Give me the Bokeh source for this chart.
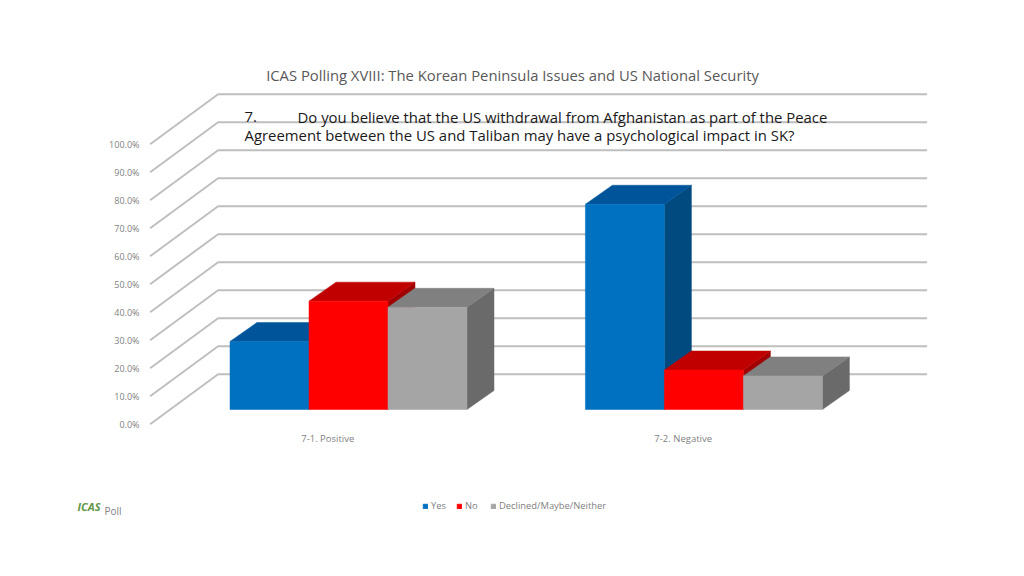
from bokeh.embed import file_html
from bokeh.resources import INLINE
from bokeh.plotting import figure
from bokeh.models import (ColumnDataSource, Range1d, LinearAxis, FixedTicker,
                          PrintfTickFormatter, Label, Legend, LegendItem)

# ---- data ----
categories = ["7-1. Positive", "7-2. Negative"]
yes_values = [24.3, 73.3]
no_values = [38.7, 14.1]
other_values = [36.5, 12.0]
series_names = ["Yes", "No", "Declined/Maybe/Neither"]
y_ticks = [0, 10, 20, 30, 40, 50, 60, 70, 80, 90, 100]
chart_title = "ICAS Polling XVIII: The Korean Peninsula Issues and US National Security"
question_no = "7."
question_1 = "Do you believe that the US withdrawal from Afghanistan as part of the Peace"
question_2 = "Agreement between the US and Taliban may have a psychological impact in SK?"

# ---- layout / projection (1 x unit = one category, 1 y unit = one percent) ----
W, H = 1008, 560
PX_X = 355.4            # px per category
PX_Y = 2.8              # px per percent
X0_PAGE, Y0_PAGE = 149.6, 423.7
wall_dx = 68 / PX_X     # oblique offset of back wall
wall_dy = 50.0 / PX_Y
wall_len = 709 / PX_X   # width of the back wall
floor_dx = 20.7 / PX_X  # bar front face sits this far back from the front edge
floor_dy = 14.7 / PX_Y
bar_dx = 27 / PX_X      # bar depth
bar_dy = 19 / PX_Y
bar_w = 79 / PX_X

x_start = (0 - X0_PAGE) / PX_X
x_end = (W - X0_PAGE) / PX_X
y_start = (Y0_PAGE - H) / PX_Y
y_end = Y0_PAGE / PX_Y

p = figure(width=W, height=H, output_backend="svg", toolbar_location=None,
           x_range=Range1d(x_start, x_end), y_range=Range1d(y_start, y_end),
           x_axis_location=None, y_axis_location=None, min_border=0,
           outline_line_color=None, background_fill_color="white",
           border_fill_color="white")
p.grid.visible = False

# ---- 3D wall gridlines ----
GRID = "#BFBFBF"
p.multi_line(xs=[[0, wall_dx, wall_len + wall_dx] for _ in y_ticks],
             ys=[[v, v + wall_dy, v + wall_dy] for v in y_ticks],
             line_color=GRID, line_width=2)

# ---- bars ----
series = [yes_values, no_values, other_values]
colors = [("#0070C0", "#00559A", "#004A80"),
          ("#FF0000", "#C00000", "#A00000"),
          ("#A5A5A5", "#808080", "#6A6A6A")]
front_renderers = []
for s, (vals, (front, top, side)) in enumerate(zip(series, colors)):
    lefts = [i + 0.5 + floor_dx + (s - 1.5) * bar_w for i in range(len(categories))]
    rights = [l + bar_w for l in lefts]
    bottoms = [floor_dy for _ in vals]
    tops = [floor_dy + v for v in vals]
    p.patches(xs=[[r, r + bar_dx, r + bar_dx, r] for r in rights],
              ys=[[b, b + bar_dy, t + bar_dy, t] for b, t in zip(bottoms, tops)],
              fill_color=side, line_color=side, line_width=0.5)
    p.patches(xs=[[l, l + bar_dx, r + bar_dx, r] for l, r in zip(lefts, rights)],
              ys=[[t, t + bar_dy, t + bar_dy, t] for t in tops],
              fill_color=top, line_color=top, line_width=0.5)
    src = ColumnDataSource(dict(left=lefts, right=rights, bottom=bottoms, top=tops))
    front_renderers.append(p.quad(left="left", right="right", bottom="bottom", top="top",
                                  source=src, fill_color=front, line_color=front, line_width=0.5))

# ---- axes (real axes, placed inside the full-page frame) ----
FONT = "Open Sans"
yaxis = LinearAxis(ticker=FixedTicker(ticks=y_ticks), formatter=PrintfTickFormatter(format="%.1f%%"),
                   fixed_location=(146 - X0_PAGE) / PX_X)
yaxis.axis_line_color = None
yaxis.major_tick_line_color = None
yaxis.minor_tick_line_color = None
yaxis.major_label_text_font = FONT
yaxis.major_label_text_font_size = "9px"
yaxis.major_label_text_color = "#7F7F7F"
yaxis.major_label_standoff = 1
p.add_layout(yaxis, "left")

xaxis = LinearAxis(ticker=FixedTicker(ticks=[i + 0.5 for i in range(len(categories))]),
                   major_label_overrides={i + 0.5: c for i, c in enumerate(categories)},
                   fixed_location=(Y0_PAGE - 422) / PX_Y)
xaxis.axis_line_color = None
xaxis.major_tick_line_color = None
xaxis.minor_tick_line_color = None
xaxis.major_label_text_font = FONT
xaxis.major_label_text_font_size = "9.5px"
xaxis.major_label_text_color = "#7F7F7F"
xaxis.major_label_standoff = 3
p.add_layout(xaxis, "below")


def label(text, px, py, size, color, align="left", style="normal"):
    p.add_layout(Label(x=px, y=H - py, x_units="screen", y_units="screen", text=text,
                       text_font=FONT, text_font_size=size, text_color=color, text_align=align,
                       text_baseline="middle", text_font_style=style))


label(chart_title, 512, 74, "14.8px", "#595959", "center")
label(question_no, 244, 116, "14.9px", "#1A1A1A")
label(question_1, 297, 116, "14.9px", "#1A1A1A")
label(question_2, 244, 134, "14.9px", "#1A1A1A")
label("ICAS", 77, 506, "11px", "#5E9645", "left", "bold italic")
label("Poll", 104, 510, "10px", "#7F7F7F")

legend = Legend(items=[LegendItem(label=n, renderers=[r]) for n, r in zip(series_names, front_renderers)],
                orientation="horizontal", location=(422, 48),
                glyph_width=6, glyph_height=6, label_standoff=3, spacing=5, padding=0, margin=0,
                border_line_color=None, background_fill_alpha=0,
                label_text_font=FONT, label_text_font_size="9.4px", label_text_color="#7F7F7F",
                label_height=10)
p.add_layout(legend)

open("out.html", "w").write(file_html(p, INLINE))
